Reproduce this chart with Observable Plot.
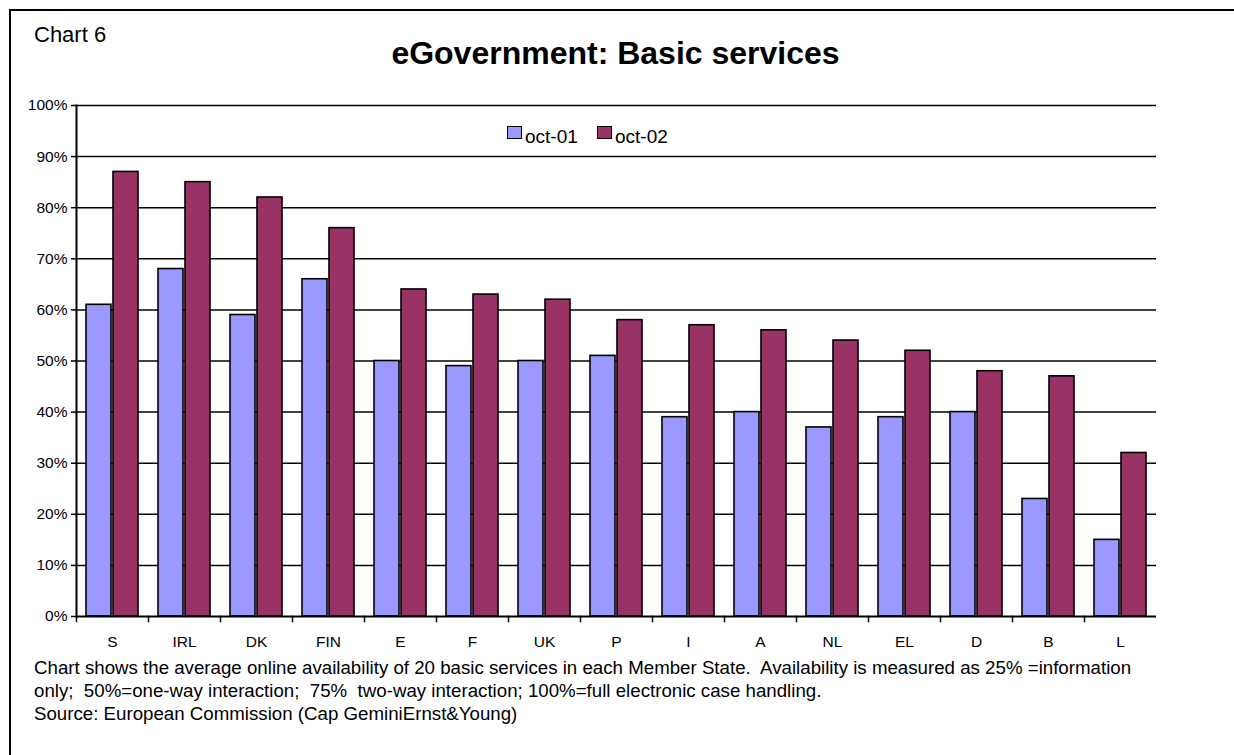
<!DOCTYPE html>
<html>
<head>
<meta charset="utf-8">
<script src="https://cdn.jsdelivr.net/npm/d3@7"></script>
<script src="https://cdn.jsdelivr.net/npm/@observablehq/plot@0.6"></script>
<style>
  html, body { margin: 0; padding: 0; background: #fff; overflow: hidden; }
  body { width: 1234px; height: 755px; position: relative; font-family: "Liberation Sans", Arial, sans-serif; color: #000; }
  .abs { position: absolute; white-space: pre; line-height: 1; }
  #border { position: absolute; left: 9px; top: 9px; width: 1300px; height: 900px; border: 2px solid #000; box-sizing: border-box; }
  #chart { position: absolute; left: 0; top: 0; }
  .sw { position: absolute; width: 15px; height: 13px; border: 1.5px solid #000; box-sizing: border-box; }
  #caption { position: absolute; left: 34px; top: 656px; font-size: 18.7px; line-height: 23px; white-space: pre; }
</style>
</head>
<body>
<div id="border"></div>
<div id="chart"></div>
<div class="abs" style="left:34px; top:23.5px; font-size:22px;">Chart 6</div>
<div class="abs" style="left:0; width:1231px; text-align:center; top:36.5px; font-size:32px; font-weight:bold;">eGovernment: Basic services</div>
<div id="legend"></div>
<div id="caption"></div>
<script>
// ---- data ----
const countries = ["S", "IRL", "DK", "FIN", "E", "F", "UK", "P", "I", "A", "NL", "EL", "D", "B", "L"];
const seriesNames = ["oct-01", "oct-02"];
const oct01 = [61, 68, 59, 66, 50, 49, 50, 51, 39, 40, 37, 39, 40, 23, 15];
const oct02 = [87, 85, 82, 76, 64, 63, 62, 58, 57, 56, 54, 52, 48, 47, 32];
const yTicks = [0, 10, 20, 30, 40, 50, 60, 70, 80, 90, 100];
const seriesColors = ["#9999FF", "#993366"];
const captionLines = [
  "Chart shows the average online availability of 20 basic services in each Member State.  Availability is measured as 25% =information",
  "only;  50%=one-way interaction;  75%  two-way interaction; 100%=full electronic case handling.",
  "Source: European Commission (Cap GeminiErnst&Young)"
];

const rows = [];
countries.forEach((c, i) => {
  rows.push({country: c, series: seriesNames[0], value: oct01[i]});
  rows.push({country: c, series: seriesNames[1], value: oct02[i]});
});

const W = 1234, H = 655, mt = 105, mb = 39, ml = 74, mr = 76;

const chart = Plot.plot({
  width: W, height: H,
  marginTop: mt, marginBottom: mb, marginLeft: ml, marginRight: mr,
  style: {fontFamily: "'Liberation Sans', Arial, sans-serif", fontSize: "15.5px", color: "#000", background: "transparent", overflow: "visible"},
  fx: {domain: countries, padding: 0, axis: null, label: null},
  x: {domain: seriesNames, paddingInner: 0.06, paddingOuter: 0.33, axis: null, label: null},
  y: {domain: [0, 100], axis: null, label: null},
  color: {domain: seriesNames, range: seriesColors},
  marks: [
    Plot.ruleY(yTicks.filter(d => d > 0), {stroke: "#000", strokeWidth: 1.5}),
    Plot.barY(rows, {fx: "country", x: "series", y: "value", fill: "series", stroke: "#000", strokeWidth: 1.6}),
    Plot.ruleY([0], {stroke: "#000", strokeWidth: 2}),
    Plot.frame({anchor: "left", facetAnchor: "left", stroke: "#000", strokeWidth: 2}),
    Plot.frame({anchor: "left", insetTop: H - mt - mb, insetBottom: -5, stroke: "#000", strokeWidth: 1.5}),
    Plot.axisY({ticks: yTicks, tickFormat: d => d + "%", tickSize: 5, tickPadding: 4, fontSize: 15.5, strokeWidth: 1.5, label: null}),
    Plot.axisFx({anchor: "bottom", tickSize: 0, tickPadding: 19, fontSize: 15.5, label: null})
  ]
});
document.getElementById("chart").appendChild(chart);

// legend
const legend = document.getElementById("legend");
const legendX = [507, 597];
seriesNames.forEach((s, i) => {
  const sw = document.createElement("div");
  sw.className = "sw";
  sw.style.left = legendX[i] + "px";
  sw.style.top = "126px";
  sw.style.background = seriesColors[i];
  legend.appendChild(sw);
  const t = document.createElement("div");
  t.className = "abs";
  t.style.left = (legendX[i] + 18) + "px";
  t.style.top = "127px";
  t.style.fontSize = "19px";
  t.textContent = s;
  legend.appendChild(t);
});

document.getElementById("caption").textContent = captionLines.join("\n");
</script>
</body>
</html>
